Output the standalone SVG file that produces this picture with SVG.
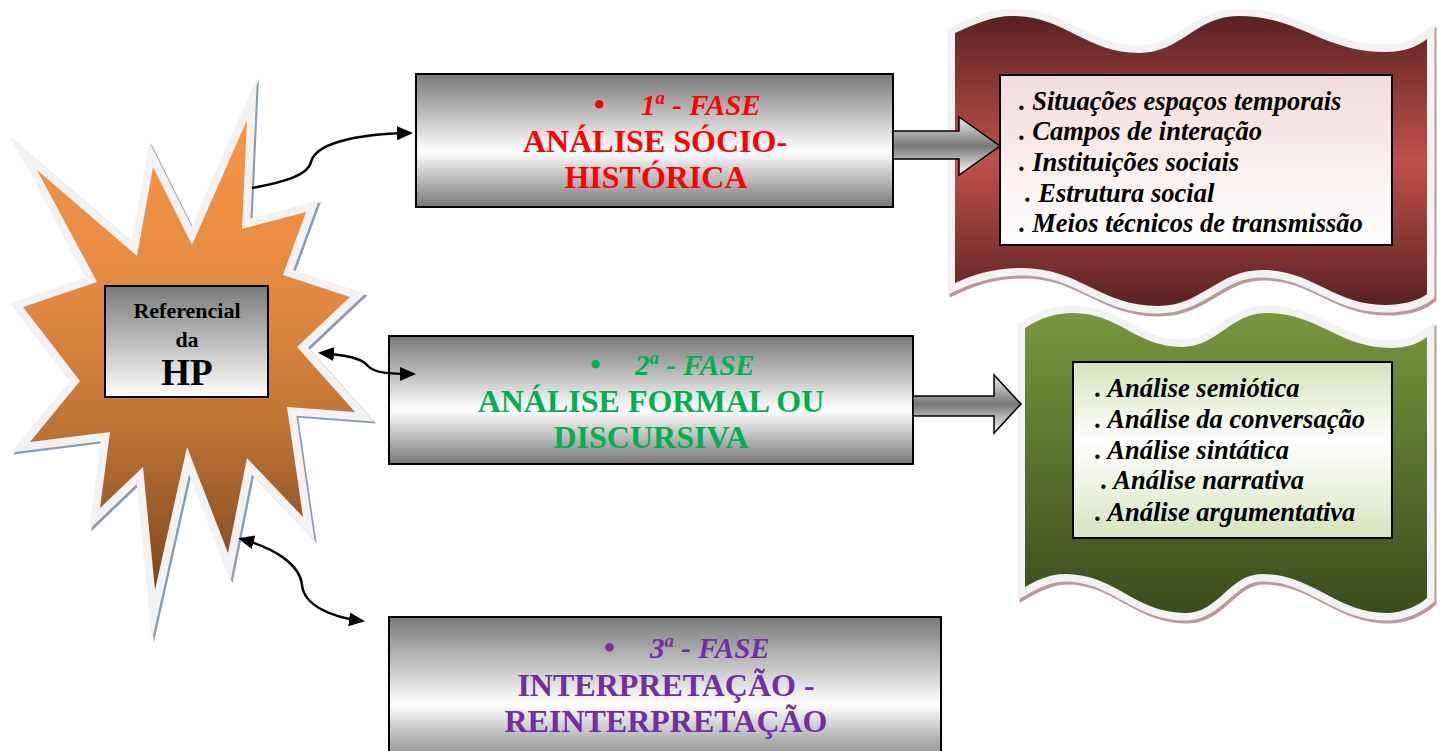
<svg xmlns="http://www.w3.org/2000/svg" width="1445" height="751" viewBox="0 0 1445 751">
<defs>
<linearGradient id="starGrad" x1="0" y1="0" x2="0" y2="1">
<stop offset="0" stop-color="#f79646"/><stop offset="0.4" stop-color="#e08840"/><stop offset="0.65" stop-color="#bf7434"/><stop offset="1" stop-color="#7a471e"/>
</linearGradient>
<linearGradient id="boxGrad" x1="0" y1="0" x2="0" y2="1">
<stop offset="0" stop-color="#787878"/><stop offset="0.58" stop-color="#ffffff"/><stop offset="1" stop-color="#787878"/>
</linearGradient>
<linearGradient id="hpGrad" x1="0" y1="0" x2="0" y2="1">
<stop offset="0" stop-color="#7a7a7a"/><stop offset="1" stop-color="#ffffff"/>
</linearGradient>
<linearGradient id="redGrad" x1="0" y1="0" x2="0" y2="1">
<stop offset="0" stop-color="#5a2220"/><stop offset="0.5" stop-color="#c0504d"/><stop offset="1" stop-color="#5a2220"/>
</linearGradient>
<linearGradient id="pinkGrad" x1="0" y1="0" x2="0" y2="1">
<stop offset="0" stop-color="#f2dcdb"/><stop offset="1" stop-color="#ffffff"/>
</linearGradient>
<linearGradient id="greenGrad" x1="0" y1="0" x2="0" y2="1">
<stop offset="0" stop-color="#78963e"/><stop offset="1" stop-color="#3a4c1c"/>
</linearGradient>
<linearGradient id="lgGrad" x1="0" y1="0" x2="0" y2="1">
<stop offset="0" stop-color="#d6e3bc"/><stop offset="0.45" stop-color="#ffffff"/><stop offset="1" stop-color="#d6e3bc"/>
</linearGradient>
<linearGradient id="arrowGrad" x1="0" y1="0" x2="0" y2="1">
<stop offset="0" stop-color="#ececec"/><stop offset="0.5" stop-color="#777777"/><stop offset="1" stop-color="#ffffff"/>
</linearGradient>
<marker id="head" markerUnits="userSpaceOnUse" markerWidth="18" markerHeight="16" refX="13" refY="7" orient="auto-start-reverse">
<path d="M0,0 L16,7 L0,14 Z" fill="#000"/>
</marker>
<polygon id="starShape" points="37,170 137,256 153,167 192,245 247,120 242,229 306,212 283,275 350,297 297,347 355,412 287,407 303,517 247,458 228,553 187,447 155,590 143,467 100,508 110,432 30,442 80,381 23,307 97,282"/>
<path id="redShape" d="M955,33 C975,24 992,16 1012,16 C1065,16 1086,53 1139,53 C1181,53 1196,16 1238,16 C1300,16 1323,52 1385,52 C1405,52 1418,46 1427,39 L1427,294 C1418,301 1402,305 1385,305 C1333,305 1313,270 1262,270 C1218,270 1202,306 1158,306 C1100,306 1080,268 1022,268 C995,268 972,275 955,283 Z"/>
<path id="greenShape" d="M1025,328 C1040,318 1056,313 1073,313 C1119,313 1136,347 1182,347 C1217,347 1231,313 1266,313 C1318,313 1339,348 1391,348 C1406,348 1418,344 1427,337 L1427,598 C1418,606 1402,613 1387,613 C1336,613 1313,574 1262,574 C1230,574 1218,613 1186,613 C1135,613 1115,574 1065,574 C1050,574 1037,580 1025,587 Z"/>
</defs>
<style>
.outline{fill:none;stroke:#f2f2f2;stroke-width:16;stroke-linejoin:miter;stroke-miterlimit:12}
.shadowB{fill:none;stroke:#8a9bb4;stroke-width:16;stroke-linejoin:miter;stroke-miterlimit:12}
.shadowR{fill:none;stroke:#b89a9a;stroke-width:15}
.outlineW{fill:none;stroke:#f2f2f2;stroke-width:15}
.phase{stroke:#000;stroke-width:2;fill:url(#boxGrad)}
.title{font-family:"Liberation Serif","Times New Roman",serif;font-weight:bold;font-size:32px;text-anchor:middle}
.fase{font-family:"Liberation Serif","Times New Roman",serif;font-weight:bold;font-style:italic;font-size:29px}
.bul{font-style:normal;font-weight:bold;font-size:31px}
.item{font-family:"Liberation Serif","Times New Roman",serif;font-weight:bold;font-style:italic;font-size:26.5px;fill:#000}
.hp{font-family:"Liberation Serif","Times New Roman",serif;font-weight:bold;text-anchor:middle;fill:#000}
.conn{fill:none;stroke:#000;stroke-width:2.5}
.block{fill:url(#arrowGrad);stroke:#000;stroke-width:1.5}
</style>
<rect width="1445" height="751" fill="#ffffff"/>

<g id="star">
<use href="#starShape" class="shadowB" transform="translate(2,2)"/>
<use href="#starShape" class="outline"/>
<use href="#starShape" fill="url(#starGrad)"/>
</g>

<g id="referencial">
<rect x="105" y="286" width="163" height="111" fill="url(#hpGrad)" stroke="#000" stroke-width="2"/>
<text class="hp" x="187" y="318" font-size="22">Referencial</text>
<text class="hp" x="187" y="347" font-size="22">da</text>
<text class="hp" x="187" y="385" font-size="37">HP</text>
</g>

<g id="fase1">
<rect class="phase" x="416" y="74" width="477" height="133"/>
<text class="fase" x="594" y="115" fill="#ff0000"><tspan class="bul">•</tspan><tspan x="641">1</tspan><tspan font-size="19" dy="-11">a</tspan><tspan dy="11"> - FASE</tspan></text>
<text class="title" x="655" y="152" fill="#ff0000">ANÁLISE SÓCIO-</text>
<text class="title" x="656" y="188" fill="#ff0000">HISTÓRICA</text>
</g>

<g id="fase2">
<rect class="phase" x="389" y="336" width="524" height="128"/>
<text class="fase" x="590" y="375" fill="#00b050"><tspan class="bul">•</tspan><tspan x="635">2</tspan><tspan font-size="19" dy="-11">a</tspan><tspan dy="11"> - FASE</tspan></text>
<text class="title" x="651" y="412" fill="#00b050">ANÁLISE FORMAL OU</text>
<text class="title" x="651" y="448" fill="#00b050">DISCURSIVA</text>
</g>

<g id="fase3">
<rect class="phase" x="389" y="617" width="552" height="150" stroke-width="2.5"/>
<text class="fase" x="604" y="658" fill="#7030a0"><tspan class="bul">•</tspan><tspan x="650">3</tspan><tspan font-size="19" dy="-11">a</tspan><tspan dy="11"> - FASE</tspan></text>
<text class="title" x="666" y="696" fill="#7030a0">INTERPRETAÇÃO -</text>
<text class="title" x="666" y="732" fill="#7030a0">REINTERPRETAÇÃO</text>
</g>

<g id="sociohistorica">
<use href="#redShape" class="shadowR" transform="translate(2,3)"/>
<use href="#redShape" class="outlineW"/>
<use href="#redShape" fill="url(#redGrad)"/>
<rect x="1000" y="75" width="392" height="170" fill="url(#pinkGrad)" stroke="#000" stroke-width="2"/>
<text class="item" x="1019" y="110">. Situações espaços temporais</text>
<text class="item" x="1019" y="140">. Campos de interação</text>
<text class="item" x="1019" y="171">. Instituições sociais</text>
<text class="item" x="1025" y="202">. Estrutura social</text>
<text class="item" x="1019" y="232">. Meios técnicos de transmissão</text>
</g>

<g id="formal">
<use href="#greenShape" class="shadowR" transform="translate(2,3)"/>
<use href="#greenShape" class="outlineW"/>
<use href="#greenShape" fill="url(#greenGrad)"/>
<rect x="1073" y="362" width="319" height="176" fill="url(#lgGrad)" stroke="#000" stroke-width="2"/>
<text class="item" x="1095" y="397">. Análise semiótica</text>
<text class="item" x="1095" y="428">. Análise da conversação</text>
<text class="item" x="1095" y="459">. Análise sintática</text>
<text class="item" x="1101" y="489">. Análise narrativa</text>
<text class="item" x="1095" y="521">. Análise argumentativa</text>
</g>

<g id="connectors">
<path class="conn" d="M252,188 C285,182 308,175 311,162 C315,145 350,134 410,133" marker-end="url(#head)"/>
<path class="conn" d="M321,353 C345,355 362,358 368,366 C374,373 390,374 413,374" marker-start="url(#head)" marker-end="url(#head)"/>
<path class="conn" d="M241,539 C275,548 300,565 302,585 C304,605 330,617 362,621" marker-start="url(#head)" marker-end="url(#head)"/>
<polygon class="block" points="893,131 959,131 959,117 1000,146 959,175 959,159 893,159"/>
<polygon class="block" points="913,396 994,396 994,375 1021,404 994,433 994,416 913,416"/>
</g>
</svg>
